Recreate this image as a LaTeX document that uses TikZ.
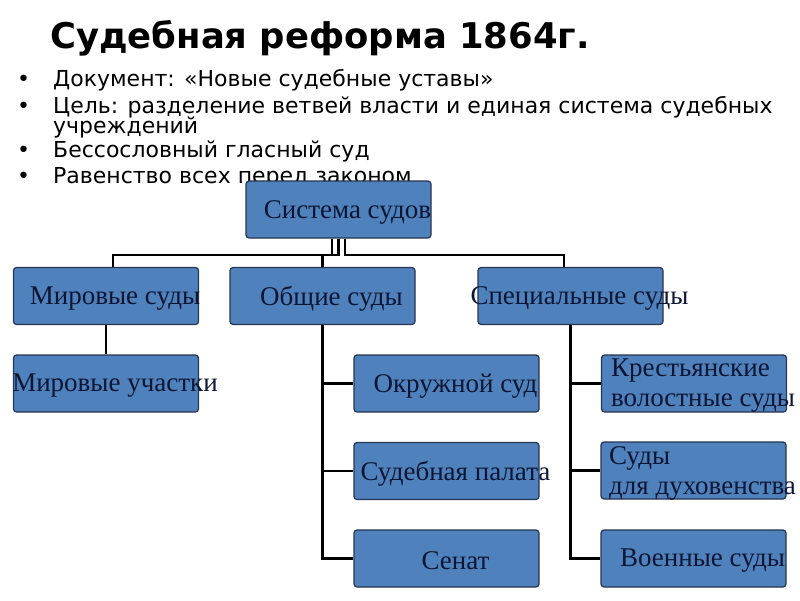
\documentclass[tikz,border=0pt]{standalone}
\usepackage{fontspec}
\setmainfont{Liberation Serif}
\newfontfamily\slidefont{DejaVu Sans}
\definecolor{boxblue}{HTML}{4F81BD}
\definecolor{boxline}{HTML}{26344F}
\definecolor{boxtext}{HTML}{0C1633}

\begin{document}
\begin{tikzpicture}[x=1pt, y=-1pt,
  courtbox/.style={rectangle, rounded corners=3pt, draw=boxline, line width=1.2pt, fill=boxblue, minimum width=185pt, minimum height=57pt, inner sep=0pt},
  courtlabel/.style={font=\fontsize{27}{30}\selectfont, text=boxtext, xshift=9pt, yshift=-2.5pt, align=left, inner sep=0pt},
  listitem/.style={anchor=base west, font=\slidefont\fontsize{22}{20}\selectfont, inner sep=0pt},
  link/.style={draw=black, line width=2.2pt}]

\useasboundingbox (0,0) rectangle (800,600);

%Title and list
\node[anchor=base west, inner sep=0pt, font=\slidefont\bfseries\fontsize{35.4}{40}\selectfont] (title) at (50,48) {Судебная реформа 1864г.};
\node[listitem] (item1) at (17,86.5) {\makebox[36pt][l]{•}Документ: «Новые судебные уставы»};
\node[listitem] (item2) at (17,113) {\makebox[36pt][l]{•}Цель: разделение ветвей власти и единая система судебных};
\node[listitem] (item2b) at (53,133) {учреждений};
\node[listitem] (item3) at (17,157) {\makebox[36pt][l]{•}Бессословный гласный суд};
\node[listitem] (item4) at (17,183) {\makebox[36pt][l]{•}Равенство всех перед законом};

%Boxes
\node[courtbox] (system) at (338.5,209.5) {};
\node[courtbox] (mirovye) at (106,296) {};
\node[courtbox] (obshchie) at (322.5,296) {};
\node[courtbox] (special) at (570.5,296) {};
\node[courtbox] (uchastki) at (106,383.5) {};
\node[courtbox] (okrug) at (446.5,383.5) {};
\node[courtbox] (palata) at (446.5,471) {};
\node[courtbox] (senat) at (446.5,558.5) {};
\node[courtbox] (krest) at (694,383.5) {};
\node[courtbox] (dukh) at (693.5,470.5) {};
\node[courtbox] (voen) at (693.5,558.5) {};

%Texts
\node[courtlabel] (systemtext) at (system) {Система судов};
\node[courtlabel] (mirovyetext) at (mirovye) {Мировые суды};
\node[courtlabel] (obshchietext) at (obshchie) {Общие суды};
\node[courtlabel] (specialtext) at (special) {Специальные суды};
\node[courtlabel] (uchastkitext) at (uchastki) {Мировые участки};
\node[courtlabel] (okrugtext) at (okrug) {Окружной суд};
\node[courtlabel] (palatatext) at (palata) {Судебная палата};
\node[courtlabel] (senattext) at (senat) {Сенат};
\node[courtlabel] (kresttext) at (krest) {Крестьянские\\волостные суды};
\node[courtlabel] (dukhtext) at (dukh) {Суды\\для духовенства};
\node[courtlabel] (voentext) at (voen) {Военные суды};

%lines
\draw[link] ([xshift=-6.5pt]system.south) -- ++(0,16) -| ([xshift=7pt]mirovye.north);
\draw[link] (system.south) -- ++(0,16) -| (obshchie.north);
\draw[link] ([xshift=6.5pt]system.south) -- ++(0,16) -| ([xshift=-6.5pt]special.north);

\draw[link] (mirovye.south) -- (uchastki.north);

\draw[link] (obshchie.south) |- (okrug.west);
\draw[link] (obshchie.south) |- (palata.west);
\draw[link] (obshchie.south) |- (senat.west);

\draw[link] (special.south) |- (krest.west);
\draw[link] (special.south) |- (dukh.west);
\draw[link] (special.south) |- (voen.west);

\end{tikzpicture}
\end{document}
